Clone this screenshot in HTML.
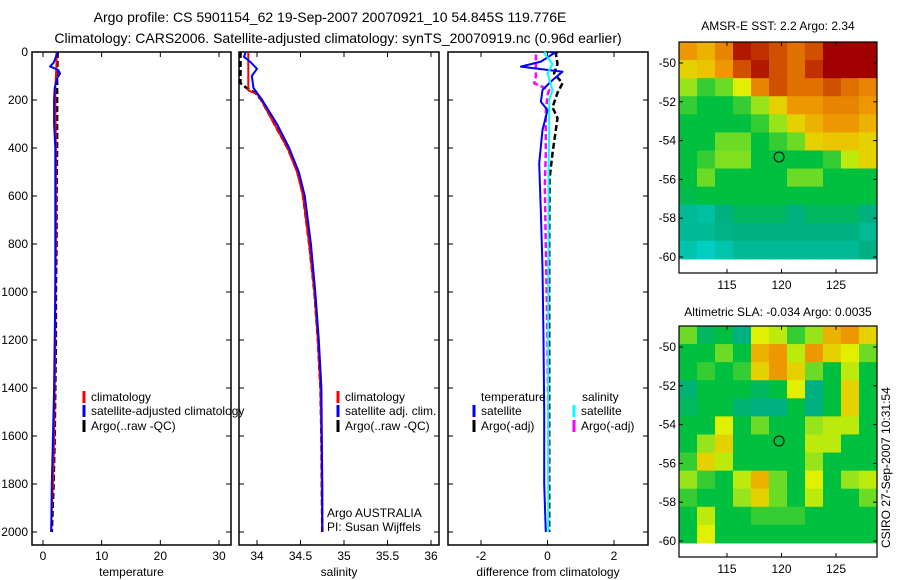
<!DOCTYPE html>
<html><head><meta charset="utf-8">
<style>
html,body{margin:0;padding:0;background:#fff;}
svg{display:block;font-family:"Liberation Sans",sans-serif;}
text{fill:#000;}
</style></head>
<body>
<svg id="fig" width="900" height="580" viewBox="0 0 900 580" xmlns="http://www.w3.org/2000/svg">
<text x="330" y="22" font-size="14" text-anchor="middle">Argo profile: CS 5901154_62 19-Sep-2007 20070921_10 54.845S 119.776E</text>
<text x="338" y="43" font-size="14" text-anchor="middle">Climatology: CARS2006. Satellite-adjusted climatology: synTS_20070919.nc (0.96d earlier)</text>
<text x="778" y="30" font-size="12" text-anchor="middle">AMSR-E SST: 2.2 Argo: 2.34</text>
<text x="778" y="316" font-size="12" text-anchor="middle">Altimetric SLA: -0.034 Argo: 0.0035</text>
<text transform="translate(890,548) rotate(-90)" font-size="12">CSIRO 27-Sep-2007 10:31:54</text>
<g id="plots"></g>
</svg>
<script>
// ---------- data ----------
const depthTicks = [0,200,400,600,800,1000,1200,1400,1600,1800,2000];
const tempTicks = [0,10,20,30];
const salTicks = [34,34.5,35,35.5,36];
const diffTicks = [-2,0,2];
const lonTicks = [115,120,125];
const latTicks = [-50,-52,-54,-56,-58,-60];

const tClimDepth = [0,50,100,150,200,400,600,800,1000,1200,1400,1600,1800,1900,2000];
const tClimVal   = [2.3,2.3,2.2,2.1,2.1,2.2,2.2,2.2,2.1,2.1,2.0,1.9,1.7,1.5,1.4];
const tSatDepth = [0,20,45,60,75,90,110,150,200,300,400,600,800,1000,1200,1400,1600,1800,2000];
const tSatVal   = [2.4,2.2,1.8,1.2,2.6,2.9,2.4,2.0,1.9,1.9,2.1,2.1,2.1,2.1,2.0,1.9,1.7,1.5,1.4];
const tArgoDepth = [0,100,200,300,400,600,800,1000,1200,1400,1600,1800,2000];
const tArgoVal   = [2.5,2.4,2.4,2.4,2.4,2.3,2.3,2.2,2.2,2.1,2.0,1.8,1.5];

const sClimDepth = [0,160,175,200,300,400,500,600,800,1000,1200,1400,1600,1800,2000];
const sClimVal   = [33.9,33.9,34.0,34.05,34.2,34.35,34.46,34.53,34.6,34.66,34.7,34.73,34.74,34.745,34.75];
const sSatDepth = [0,20,40,70,100,150,200,300,400,500,600,800,1000,1200,1400,1600,1800,2000];
const sSatVal   = [33.87,33.85,33.92,34.0,33.94,33.96,34.06,34.23,34.37,34.48,34.55,34.62,34.67,34.71,34.74,34.745,34.75,34.75];
const sArgoDepth = [0,130,150,170,200,300,400,500,600,800,1000,1200,1400,1600,1800,2000];
const sArgoVal   = [33.81,33.81,33.88,33.98,34.05,34.2,34.35,34.47,34.53,34.6,34.66,34.7,34.73,34.74,34.745,34.75];

const dTSatDepth = [0,5,40,61,82,117,158,207,242,325,464,672,900,1200,1500,1800,2000];
const dTSatVal   = [0.1,0.2,-0.2,-0.8,0.45,0.15,-0.15,-0.2,0,-0.15,-0.25,-0.2,-0.15,-0.12,-0.1,-0.1,-0.05];
const dTArgoDepth = [0,5,50,90,130,170,230,276,325,422,530,800,1200,1600,2000];
const dTArgoVal   = [0.3,0.25,0.3,0.2,0.45,0.3,0.15,0.3,0.25,0.15,0.06,0.05,0.05,0.05,0.05];
const dSSatDepth = [0,5,50,90,158,200,325,500,800,1200,1600,2000];
const dSSatVal   = [-0.05,-0.1,0.15,0.0,0.15,0.05,0.05,0.03,0.03,0.02,0.02,0.02];
const dSArgoDepth = [10,30,100,130,158,180,250,420,560,800,1200,1600,1800];
const dSArgoVal   = [-0.35,-0.35,-0.35,-0.4,0.05,0.0,-0.05,-0.05,-0.08,-0.05,0.0,0.03,0.03];

const sstGrid = [
[0.7,0.65,0.75,0.95,0.9,0.85,0.8,0.85,1,1,1],
[0.6,0.62,0.7,0.85,0.95,0.85,0.8,0.9,1,1,1],
[0.45,0.35,0.4,0.55,0.75,0.85,0.8,0.8,0.85,0.8,0.75],
[0.35,0.3,0.3,0.35,0.45,0.6,0.7,0.7,0.75,0.75,0.7],
[0.3,0.3,0.3,0.3,0.35,0.45,0.6,0.65,0.7,0.7,0.65],
[0.3,0.3,0.4,0.4,0.3,0.35,0.4,0.6,0.62,0.62,0.6],
[0.3,0.35,0.42,0.42,0.3,0.3,0.3,0.3,0.35,0.5,0.6],
[0.3,0.4,0.3,0.3,0.3,0.3,0.4,0.4,0.3,0.3,0.3],
[0.28,0.3,0.3,0.3,0.3,0.3,0.3,0.3,0.3,0.3,0.3],
[0.15,0.12,0.2,0.25,0.25,0.25,0.2,0.25,0.25,0.25,0.2],
[0.15,0.15,0.18,0.2,0.2,0.2,0.2,0.2,0.2,0.2,0.15],
[0.1,0.05,0.1,0.15,0.15,0.15,0.15,0.15,0.15,0.15,0.2]];
const slaGrid = [
[0.4,0.25,0.3,0.2,0.55,0.5,0.35,0.45,0.65,0.7,0.6],
[0.3,0.3,0.4,0.3,0.65,0.7,0.5,0.7,0.6,0.55,0.4],
[0.3,0.35,0.3,0.35,0.6,0.7,0.6,0.4,0.3,0.5,0.3],
[0.22,0.3,0.3,0.3,0.25,0.3,0.55,0.2,0.3,0.6,0.3],
[0.25,0.3,0.3,0.22,0.2,0.2,0.3,0.2,0.3,0.6,0.3],
[0.3,0.3,0.55,0.3,0.4,0.3,0.3,0.45,0.5,0.5,0.3],
[0.3,0.45,0.6,0.3,0.3,0.3,0.3,0.5,0.5,0.3,0.3],
[0.35,0.6,0.5,0.3,0.3,0.3,0.3,0.45,0.3,0.3,0.3],
[0.45,0.35,0.3,0.5,0.65,0.4,0.3,0.55,0.3,0.45,0.5],
[0.35,0.3,0.3,0.45,0.6,0.4,0.3,0.5,0.3,0.3,0.4],
[0.3,0.5,0.3,0.3,0.35,0.35,0.35,0.3,0.3,0.3,0.3],
[0.3,0.55,0.3,0.3,0.3,0.3,0.3,0.3,0.3,0.3,0.3]];
const argoLon = 119.776, argoLat = -54.845;

// ---------- helpers ----------
const NS="http://www.w3.org/2000/svg";
const G=document.getElementById('plots');
function mk(tag,attrs,parent){const e=document.createElementNS(NS,tag);for(const k in attrs)e.setAttribute(k,attrs[k]);(parent||G).appendChild(e);return e;}
const PT=52, PB=545;
const yD = d => 52 + d*0.24;
function lin(d0,d1,r0,r1){return v=>r0+(v-d0)*(r1-r0)/(d1-d0);}

function panel(name,x0,x1,xs,ticks,xtitle,showDepth){
  const g=mk('g',{});  
  const r=mk('rect',{x:x0,y:PT,width:x1-x0,height:PB-PT,fill:'none',stroke:'#000','stroke-width':1.5},g);
   
  ticks.forEach(t=>{const x=xs(t);
    mk('line',{x1:x,x2:x,y1:PB,y2:PB-5,stroke:'#000'},g);
    mk('line',{x1:x,x2:x,y1:PT,y2:PT+5,stroke:'#000'},g);
    const tx=mk('text',{x:x,y:PB+15,'font-size':12,'text-anchor':'middle'},g);tx.textContent=String(t);
     
  });
  depthTicks.forEach(d=>{const y=yD(d);
    mk('line',{x1:x0,x2:x0+5,y1:y,y2:y,stroke:'#000'},g);
    mk('line',{x1:x1,x2:x1-5,y1:y,y2:y,stroke:'#000'},g);
    if(showDepth){const tx=mk('text',{x:x0-4,y:y+4,'font-size':12,'text-anchor':'end'},g);tx.textContent=d;
       }
  });
  const xt=mk('text',{x:(x0+x1)/2,y:576,'font-size':12,'text-anchor':'middle'},g);xt.textContent=xtitle;
   
  return g;
}
function line(g,name,xs,vals,depths,color,w,dash){
  const pts=vals.map((v,i)=>xs(v).toFixed(1)+','+yD(depths[i]).toFixed(1)).join(' ');
  const p=mk('polyline',{points:pts,fill:'none',stroke:color,'stroke-width':w,'stroke-linejoin':'round'},g);
  if(dash)p.setAttribute('stroke-dasharray',dash);
   
}
function legend(g,x,y,color,label,name){
  const l=mk('line',{x1:x,x2:x,y1:y-10,y2:y+2,stroke:color,'stroke-width':3},g);
   
  const t=mk('text',{x:x+7,y:y,'font-size':12},g);t.textContent=label;
   
}
function txt(g,x,y,s,name){const t=mk('text',{x:x,y:y,'font-size':12},g);t.textContent=s;
   }

// ---------- temperature panel ----------
const xT=lin(0,30,43,219);
const g1=panel('temperature',32,231,xT,tempTicks,'temperature',true);
line(g1,'temperature-argo-line',xT,tArgoVal,tArgoDepth,'#000',2.5,'6,3');
line(g1,'temperature-climatology-line',xT,tClimVal,tClimDepth,'#f00',2);
line(g1,'temperature-satellite-line',xT,tSatVal,tSatDepth,'#00f',2);
legend(g1,84,401,'#f00','climatology','legend-climatology');
legend(g1,84,415,'#00f','satellite-adjusted climatology','legend-satellite-adjusted');
legend(g1,84,430,'#000','Argo(..raw -QC)','legend-argo-raw');

// ---------- salinity panel ----------
const xS=lin(34,36,257,431);
const g2=panel('salinity',239,439,xS,salTicks,'salinity',false);
line(g2,'salinity-argo-line',xS,sArgoVal,sArgoDepth,'#000',2.5,'6,3');
line(g2,'salinity-climatology-line',xS,sClimVal,sClimDepth,'#f00',2);
line(g2,'salinity-satellite-line',xS,sSatVal,sSatDepth,'#00f',2);
legend(g2,338,401,'#f00','climatology','legend-sal-climatology');
legend(g2,338,415,'#00f','satellite adj. clim.','legend-sal-satellite');
legend(g2,338,430,'#000','Argo(..raw -QC)','legend-sal-argo');
txt(g2,327,517,'Argo AUSTRALIA','argo-australia-label');
txt(g2,327,531,'PI: Susan Wijffels','pi-label');

// ---------- difference panel ----------
const xDf=lin(-2,2,481,614);
const g3=panel('difference',448,648,xDf,diffTicks,'difference from climatology',false);
line(g3,'diff-temp-argo-line',xDf,dTArgoVal,dTArgoDepth,'#000',2.5,'6,3');
line(g3,'diff-sal-argo-line',xDf,dSArgoVal,dSArgoDepth,'#f0f',2.5,'6,3');
line(g3,'diff-temp-satellite-line',xDf,dTSatVal,dTSatDepth,'#00f',2);
line(g3,'diff-sal-satellite-line',xDf,dSSatVal,dSSatDepth,'#0ff',2);
txt(g3,481,401,'temperature','legend-temperature-heading');
legend(g3,474,415,'#00f','satellite','legend-diff-temp-satellite');
legend(g3,474,430,'#000','Argo(-adj)','legend-diff-temp-argo');
txt(g3,582,401,'salinity','legend-salinity-heading');
legend(g3,574,415,'#0ff','satellite','legend-diff-sal-satellite');
legend(g3,574,430,'#f0f','Argo(-adj)','legend-diff-sal-argo');

// ---------- maps ----------
const stops=[[0,[0,216,216]],[0.2,[0,176,128]],[0.3,[0,192,64]],[0.42,[128,224,32]],[0.55,[224,240,0]],[0.68,[240,160,0]],[0.8,[224,112,0]],[0.9,[192,48,0]],[1,[160,0,0]]];
function cmap(v){for(let i=1;i<stops.length;i++){if(v<=stops[i][0]){const a=stops[i-1],b=stops[i],f=(v-a[0])/(b[0]-a[0]);
  const c=a[1].map((x,k)=>Math.round(x+(b[1][k]-x)*f));return 'rgb('+c.join(',')+')';}}return 'rgb(160,0,0)';}
function map(name,grid,top,lat50y,lat60y,bottom){
  const L=679,R=877;
  const xL=lin(115,125,727,836), yL=lin(-50,-60,lat50y,lat60y);
  const g=mk('g',{});  
  const rows=grid.length, cols=grid[0].length;
  const imgBottom=yL(-60.1);
  const cw=(R-L)/cols, ch=(imgBottom-top)/rows;
  grid.forEach((row,j)=>row.forEach((v,i)=>{
    const r=mk('rect',{x:(L+i*cw).toFixed(2),y:(top+j*ch).toFixed(2),width:(cw+0.5).toFixed(2),height:(ch+0.5).toFixed(2),fill:cmap(v)},g);
     
  }));
  const fr=mk('rect',{x:L,y:top,width:R-L,height:bottom-top,fill:'none',stroke:'#000','stroke-width':1.2},g);
   
  lonTicks.forEach(t=>{const x=xL(t);
    mk('line',{x1:x,x2:x,y1:bottom,y2:bottom-4,stroke:'#000'},g);mk('line',{x1:x,x2:x,y1:top,y2:top+4,stroke:'#000'},g);
    const tx=mk('text',{x:x,y:bottom+16,'font-size':12,'text-anchor':'middle'},g);tx.textContent=t;
     });
  latTicks.forEach(t=>{const y=yL(t);
    mk('line',{x1:L,x2:L+4,y1:y,y2:y,stroke:'#000'},g);mk('line',{x1:R,x2:R-4,y1:y,y2:y,stroke:'#000'},g);
    const tx=mk('text',{x:L-3,y:y+4,'font-size':12,'text-anchor':'end'},g);tx.textContent=t;
     });
  const c=mk('circle',{cx:xL(argoLon),cy:yL(argoLat),r:5,fill:'none',stroke:'#000','stroke-width':1},g);
   
}
map('sst-map',sstGrid,42,63,257,273);
map('sla-map',slaGrid,326,347,541,557);
</script>
</body></html>
